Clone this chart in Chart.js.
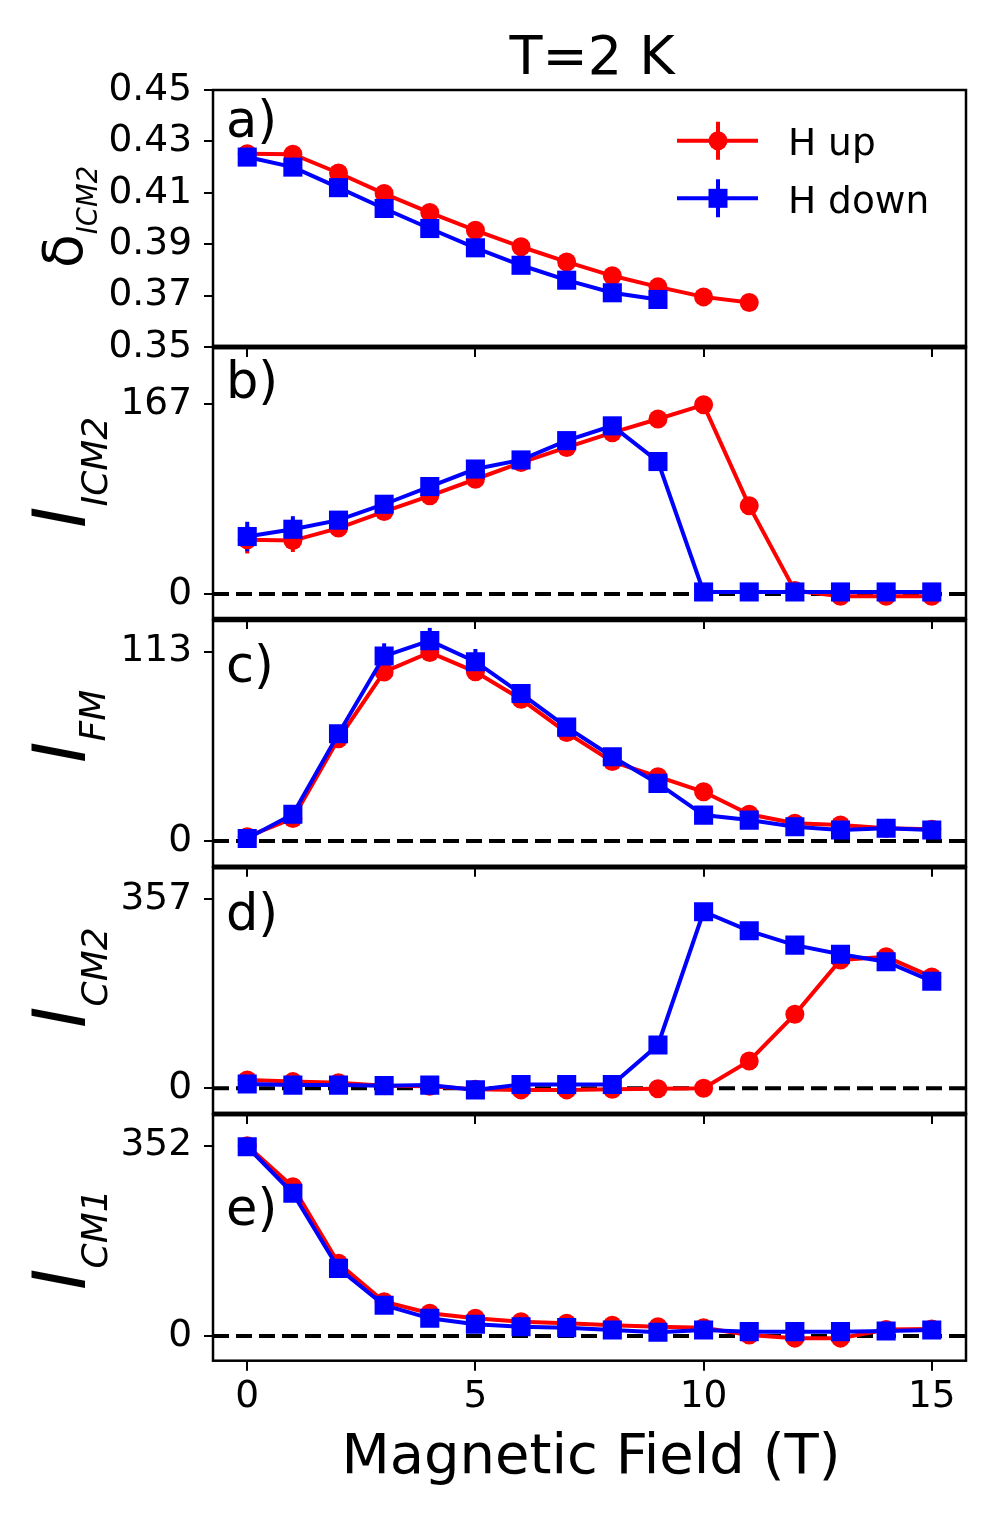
<!DOCTYPE html>
<html lang="en">
<head>
  <meta charset="UTF-8" />
  <title>T=2 K field scans</title>
  <script src="https://cdn.jsdelivr.net/npm/chart.js"></script>
  <style>
    body { margin: 0; background: #fff; }
    #fig { position: relative; width: 1000px; height: 1514px; background: #fff; }
    #fig canvas { position: absolute; left: 0; top: 0; }
  </style>
</head>
<body>
  <div id="fig">
    <canvas id="pa" width="1000" height="1514"></canvas>
    <canvas id="pb" width="1000" height="1514"></canvas>
    <canvas id="pc" width="1000" height="1514"></canvas>
    <canvas id="pd" width="1000" height="1514"></canvas>
    <canvas id="pe" width="1000" height="1514"></canvas>
  </div>

  <script>
    // magnetic field (T)
    const fieldT = [0, 1, 2, 3, 4, 5, 6, 7, 8, 9, 10, 11, 12, 13, 14, 15];
    const xTicks = [0, 5, 10, 15];

    // a) delta_ICM2
    const deltaUp = [0.4252, 0.4250, 0.4177, 0.4097, 0.4023, 0.3954, 0.3890, 0.3831, 0.3777, 0.3734, 0.3695, 0.3673];
    const deltaDown = [0.4239, 0.4200, 0.4120, 0.4039, 0.3961, 0.3886, 0.3818, 0.3760, 0.3711, 0.3685];
    const deltaUpErr = [0.001, 0.001, 0.001, 0.001, 0.001, 0.001, 0.001, 0.001, 0.001, 0.001, 0.001, 0.001];
    const deltaDownErr = [0.001, 0.001, 0.001, 0.001, 0.001, 0.001, 0.001, 0.001, 0.001, 0.001];
    const deltaTicks = [0.35, 0.37, 0.39, 0.41, 0.43, 0.45];

    // b) I_ICM2
    const icm2Up = [47.7, 47, 58, 72.6, 86.4, 101, 115.7, 129, 142, 154, 166.5, 77.6, 3, -2, -2, -2];
    const icm2Down = [50.6, 57, 65, 79, 94.6, 110, 118, 135, 148, 116.6, 1.8, 1.8, 1.8, 1.8, 1.8, 1.8];
    const icm2UpErr = [12, 10, 4, 4, 4, 4, 4, 4, 4, 4, 4, 4, 2, 2, 2, 2];
    const icm2DownErr = [13, 11.5, 4, 4, 4, 4, 4, 4, 4, 4, 2, 2, 2, 2, 2, 2];
    const icm2Ticks = [0, 167];

    // c) I_FM
    const fmUp = [2.6, 13.5, 61, 100.9, 112.5, 101, 84.6, 64.7, 47.4, 38.4, 29.4, 16, 10.6, 9.6, 7.6, 7];
    const fmDown = [1.5, 16, 64, 110.4, 119.6, 107, 88, 68, 50.3, 34.4, 15.5, 12.5, 8.5, 6.6, 7.6, 6.6];
    const fmUpErr = [2, 3, 4, 5, 5, 5, 4, 4, 3, 3, 3, 2, 2, 2, 2, 2];
    const fmDownErr = [2, 3, 4, 7.6, 7.6, 7.6, 4, 4, 3, 3, 3, 2, 2, 2, 2, 2];
    const fmTicks = [0, 113];

    // d) I_CM2
    const cm2Up = [15.6, 12.6, 10.6, 5, 4, -2, -3, -3, -2, -1, 0, 51.5, 139.5, 242, 248, 210];
    const cm2Down = [8, 6, 6, 5, 6, -3, 7, 7, 7, 81.6, 333, 297, 270, 252.7, 238.8, 202];
    const cm2UpErr = [6, 6, 6, 6, 6, 6, 6, 6, 6, 6, 6, 8, 8, 8, 8, 8];
    const cm2DownErr = [6, 6, 6, 6, 6, 6, 6, 6, 6, 8, 8, 8, 8, 8, 8, 8];
    const cm2Ticks = [0, 357];

    // e) I_CM1
    const cm1Up = [352, 276, 134.4, 63.5, 42, 32.7, 26.5, 23.4, 20, 17, 15.4, 2, -4, -4, 12, 13];
    const cm1Down = [350, 264, 125, 57, 32.7, 21.6, 17, 15.4, 11, 6.8, 11, 8, 8, 8, 9.2, 11];
    const cm1UpErr = [8, 8, 6, 6, 6, 6, 6, 6, 6, 6, 6, 6, 6, 6, 6, 6];
    const cm1DownErr = [8, 8, 6, 6, 6, 6, 6, 6, 6, 6, 6, 6, 6, 6, 6, 6];
    const cm1Ticks = [0, 352];

    const FONT = '"DejaVu Sans", sans-serif';
    const RED = '#ff0000';
    const BLUE = '#0000ff';
    const TICK_SIZE = 37.5;

    // panel layout (pixels) and labels
    const panels = [
      { id: 'pa', top: 90, bottom: 347, yMin: 0.35, yMax: 0.45, ticks: deltaTicks, dec: 2,
        up: deltaUp, down: deltaDown, upErr: deltaUpErr, downErr: deltaDownErr, zero: false,
        letter: 'a)', letterY: 137, main: 'δ', mainItalic: false, mainSize: 55, mainX: 82, start: 268,
        sub: 'ICM2', subSize: 27.5, subX: 97 },
      { id: 'pb', top: 347, bottom: 619, yMin: -22, yMax: 217.4, ticks: icm2Ticks, dec: 0,
        up: icm2Up, down: icm2Down, upErr: icm2UpErr, downErr: icm2DownErr, zero: true,
        letter: 'b)', letterY: 398, main: 'I', mainItalic: true, mainSize: 73, mainX: 85, start: 528,
        sub: 'ICM2', subSize: 36, subX: 107 },
      { id: 'pc', top: 620, bottom: 866.7, yMin: -15.3, yMax: 131.9, ticks: fmTicks, dec: 0,
        up: fmUp, down: fmDown, upErr: fmUpErr, downErr: fmDownErr, zero: true,
        letter: 'c)', letterY: 682, main: 'I', mainItalic: true, mainSize: 73, mainX: 85, start: 763,
        sub: 'FM', subSize: 36, subX: 105 },
      { id: 'pd', top: 867.3, bottom: 1114, yMin: -48.5, yMax: 416.8, ticks: cm2Ticks, dec: 0,
        up: cm2Up, down: cm2Down, upErr: cm2UpErr, downErr: cm2DownErr, zero: true,
        letter: 'd)', letterY: 930, main: 'I', mainItalic: true, mainSize: 73, mainX: 85, start: 1028,
        sub: 'CM2', subSize: 36, subX: 107 },
      { id: 'pe', top: 1114, bottom: 1360.7, yMin: -45.7, yMax: 410.6, ticks: cm1Ticks, dec: 0,
        up: cm1Up, down: cm1Down, upErr: cm1UpErr, downErr: cm1DownErr, zero: true,
        letter: 'e)', letterY: 1225, main: 'I', mainItalic: true, mainSize: 73, mainX: 85, start: 1290,
        sub: 'CM1', subSize: 36, subX: 107 }
    ];

    function points(vals) {
      return vals.map((v, i) => ({ x: fieldT[i], y: v }));
    }

    // vertical error bars + dashed zero line, under the data
    const underPlugin = {
      id: 'under',
      beforeDatasetsDraw(chart) {
        const ctx = chart.ctx;
        const { left, right } = chart.chartArea;
        const xs = chart.scales.x, ys = chart.scales.y;
        const p = chart.options.plugins.under;
        ctx.save();
        if (p.zero) {
          const y0 = ys.getPixelForValue(0);
          ctx.strokeStyle = '#000';
          ctx.lineWidth = 4;
          ctx.setLineDash([16, 7]);
          ctx.beginPath();
          ctx.moveTo(left, y0);
          ctx.lineTo(right, y0);
          ctx.stroke();
          ctx.setLineDash([]);
        }
        chart.data.datasets.forEach(ds => {
          ctx.strokeStyle = ds.borderColor;
          ctx.lineWidth = 4;
          ds.data.forEach((pt, i) => {
            const e = ds.errors[i];
            if (!e) return;
            const x = xs.getPixelForValue(pt.x);
            ctx.beginPath();
            ctx.moveTo(x, ys.getPixelForValue(pt.y - e));
            ctx.lineTo(x, ys.getPixelForValue(pt.y + e));
            ctx.stroke();
          });
        });
        ctx.restore();
      }
    };

    // frame, panel letter, y label, legend, figure texts
    const overPlugin = {
      id: 'over',
      afterDraw(chart) {
        const ctx = chart.ctx;
        const { left, right, top, bottom } = chart.chartArea;
        const p = chart.options.plugins.over;
        const cfg = p.panel;
        ctx.save();
        ctx.strokeStyle = '#000';
        ctx.lineWidth = 2.5;
        ctx.strokeRect(left, top, right - left, bottom - top);
        ctx.lineWidth = 4.5;
        if (p.index > 0) {
          ctx.beginPath(); ctx.moveTo(left, top); ctx.lineTo(right, top); ctx.stroke();
        }
        if (p.index < panels.length - 1) {
          ctx.beginPath(); ctx.moveTo(left, bottom); ctx.lineTo(right, bottom); ctx.stroke();
        }

        ctx.fillStyle = '#000';
        ctx.textAlign = 'left';
        ctx.textBaseline = 'alphabetic';
        ctx.font = `51px ${FONT}`;
        ctx.fillText(cfg.letter, 226, cfg.letterY);

        // rotated y label with subscript
        ctx.save();
        ctx.translate(cfg.mainX, cfg.start);
        ctx.rotate(-Math.PI / 2);
        ctx.font = `${cfg.mainItalic ? 'italic ' : ''}${cfg.mainSize}px ${FONT}`;
        ctx.fillText(cfg.main, 0, 0);
        const w = ctx.measureText(cfg.main).width;
        ctx.font = `italic ${cfg.subSize}px ${FONT}`;
        ctx.fillText(cfg.sub, w, cfg.subX - cfg.mainX);
        ctx.restore();

        if (p.index === 0) {
          const rows = [{ ds: 0, y: 140.7, ty: 155 }, { ds: 1, y: 198.3, ty: 213 }];
          rows.forEach(r => {
            const ds = chart.data.datasets[r.ds];
            ctx.strokeStyle = ds.borderColor;
            ctx.fillStyle = ds.borderColor;
            ctx.lineWidth = 4;
            ctx.beginPath();
            ctx.moveTo(677, r.y); ctx.lineTo(758, r.y);
            ctx.moveTo(718, r.y - 19); ctx.lineTo(718, r.y + 19);
            ctx.stroke();
            if (ds.pointStyle === 'rect') {
              ctx.fillRect(718 - 9.5, r.y - 9.5, 19, 19);
            } else {
              ctx.beginPath(); ctx.arc(718, r.y, 9.5, 0, Math.PI * 2); ctx.fill();
            }
            ctx.fillStyle = '#000';
            ctx.font = `37.5px ${FONT}`;
            ctx.fillText(ds.label, 788, r.ty);
          });
          ctx.textAlign = 'center';
          ctx.font = `54px ${FONT}`;
          ctx.fillText('T=2 K', 592, 74);
        }
        if (p.index === panels.length - 1) {
          ctx.textAlign = 'center';
          ctx.font = `56px ${FONT}`;
          ctx.fillText('Magnetic Field (T)', 591, 1473);
        }
        ctx.restore();
      }
    };

    panels.forEach((cfg, idx) => {
      const last = idx === panels.length - 1;
      const xH = last ? 60 : 12;
      new Chart(document.getElementById(cfg.id), {
        type: 'line',
        data: {
          datasets: [
            {
              label: 'H up', data: points(cfg.up), errors: cfg.upErr,
              borderColor: RED, backgroundColor: RED, borderWidth: 4,
              pointStyle: 'circle', pointRadius: 9.5, pointBorderWidth: 0,
              pointBackgroundColor: RED, order: 1
            },
            {
              label: 'H down', data: points(cfg.down), errors: cfg.downErr,
              borderColor: BLUE, backgroundColor: BLUE, borderWidth: 4,
              pointStyle: 'rect', pointRadius: 13.5, pointBorderWidth: 0,
              pointBackgroundColor: BLUE, order: 0
            }
          ]
        },
        options: {
          responsive: false,
          animation: false,
          devicePixelRatio: 1,
          layout: { padding: { left: 0, right: 34, top: cfg.top, bottom: 1514 - cfg.bottom - xH } },
          scales: {
            x: {
              type: 'linear', min: -0.75, max: 15.75,
              afterBuildTicks: s => { s.ticks = xTicks.map(v => ({ value: v })); },
              afterFit: s => { s.height = xH; },
              grid: { drawOnChartArea: false, drawTicks: true, tickLength: 10, color: '#000', lineWidth: 2 },
              border: { display: false },
              ticks: { display: last, color: '#000', padding: 4, font: { family: FONT, size: TICK_SIZE } }
            },
            y: {
              type: 'linear', min: cfg.yMin, max: cfg.yMax,
              afterBuildTicks: s => { s.ticks = cfg.ticks.map(v => ({ value: v })); },
              afterFit: s => { s.width = 213; },
              grid: { drawOnChartArea: false, drawTicks: true, tickLength: 9, color: '#000', lineWidth: 2 },
              border: { display: false },
              ticks: {
                color: '#000', padding: 12, font: { family: FONT, size: TICK_SIZE },
                callback: v => Number(v).toFixed(cfg.dec)
              }
            }
          },
          plugins: {
            legend: { display: false },
            tooltip: { enabled: false },
            under: { zero: cfg.zero },
            over: { panel: cfg, index: idx }
          }
        },
        plugins: [underPlugin, overPlugin]
      });
    });
  </script>
</body>
</html>
